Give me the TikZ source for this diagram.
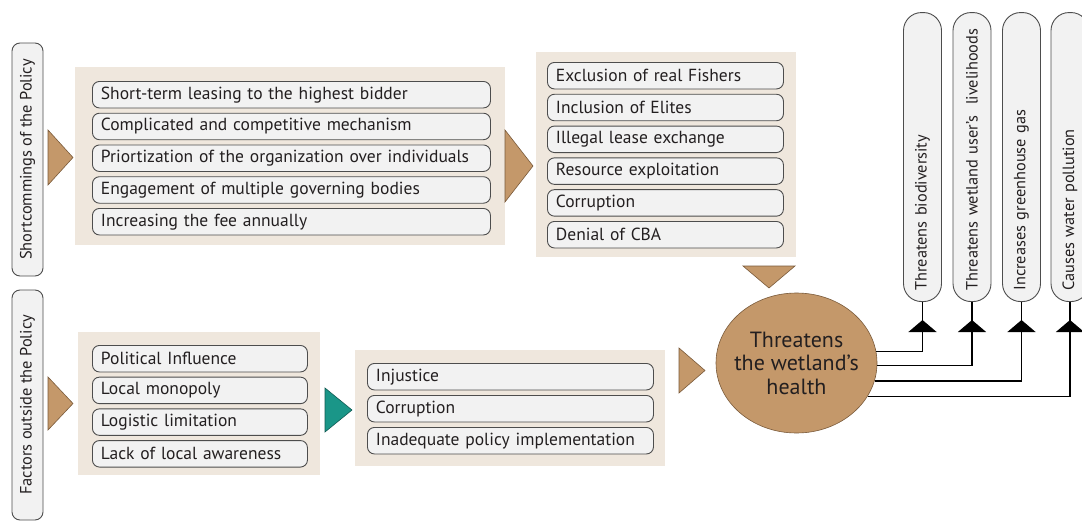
\documentclass[tikz,border=0pt]{standalone}
\usepackage{fontspec}
\setmainfont{PT Sans}
\usetikzlibrary{arrows.meta,decorations.markings,shapes.geometric}
\definecolor{tanc}{HTML}{C4986A}
\definecolor{tanline}{HTML}{7A5A3A}
\definecolor{panelc}{HTML}{EFE7DD}
\definecolor{boxfill}{HTML}{F2F2F2}
\definecolor{boxline}{HTML}{4D4D4D}
\definecolor{tealc}{HTML}{1A9688}
\definecolor{textc}{HTML}{231F20}
\begin{document}
\begin{tikzpicture}[x=1pt,y=-1pt,
  panel/.style={fill=panelc},
  lbox/.style={draw=boxline, fill=boxfill, rounded corners=7pt, line width=0.9pt,
    inner xsep=8.5pt, inner ysep=0pt, minimum height=26.5pt, anchor=north west,
    align=left, text=textc, font=\fontsize{17.5}{20}\selectfont},
  vlab/.style={draw=boxline, fill=boxfill, rounded corners=8pt, line width=0.9pt,
    rotate=90, inner sep=0pt, minimum height=31pt, text=textc,
    font=\fontsize{16.4}{19}\selectfont},
  rbox/.style={draw=boxline, fill=boxfill, rounded corners=18pt, line width=0.9pt,
    rotate=90, inner xsep=11pt, inner ysep=0pt, minimum height=38pt,
    text width=267pt, align=left, anchor=west, text=textc,
    font=\fontsize{16.3}{19}\selectfont},
  tri/.style={fill=tanc, draw=tanline, line width=0.6pt},
  conn/.style={line width=1.3pt, draw=black,
    decoration={markings, mark=at position -18pt with {\arrow{Triangle[width=28pt,length=12pt]}}},
    postaction={decorate}}
]
\useasboundingbox (0,0) rectangle (1082,522);
\fill[white] (0,0) rectangle (1082,522);

% left labels
\node[vlab, minimum width=233pt] (lab1) at (27.5,159.5) {Shortcommings of the Policy};
\node[vlab, minimum width=230pt] (lab2) at (27.5,405) {Factors outside the Policy};

% panels
\fill[panel] (75,67) rectangle (505,245);
\fill[panel] (536,52) rectangle (796,257);
\fill[panel] (78,332) rectangle (320,475);
\fill[panel] (355,350) rectangle (665,466);

% triangles
\draw[tri] (48,130) -- (48,185) -- (73,157.5) -- cycle;
\draw[tri] (48,377) -- (48,430) -- (73,403.5) -- cycle;
\draw[tri] (505,130) -- (505,202) -- (533,166) -- cycle;
\draw[tri] (743,266) -- (795,266) -- (769,288) -- cycle;
\draw[fill=tealc, draw=tealc!60!black, line width=0.6pt] (325,388) -- (325,432) -- (352,410) -- cycle;
\draw[tri] (679,348) -- (679,393) -- (705,370.5) -- cycle;

% panel 1
\node[lbox, text width=381pt] (a1) at (92,81) {Short-term leasing to the highest bidder};
\node[lbox, text width=381pt] (a2) at (92,112.75) {Complicated and competitive mechanism};
\node[lbox, text width=381pt] (a3) at (92,144.5) {Priortization of the organization over individuals};
\node[lbox, text width=381pt] (a4) at (92,176.25) {Engagement of multiple governing bodies};
\node[lbox, text width=381pt] (a5) at (92,208) {Increasing the fee annually};

% panel 2
\node[lbox, text width=219pt] (b1) at (547,62) {Exclusion of real Fishers};
\node[lbox, text width=219pt] (b2) at (547,93.8) {Inclusion of Elites};
\node[lbox, text width=219pt] (b3) at (547,125.6) {Illegal lease exchange};
\node[lbox, text width=219pt] (b4) at (547,157.4) {Resource exploitation};
\node[lbox, text width=219pt] (b5) at (547,189.2) {Corruption};
\node[lbox, text width=219pt] (b6) at (547,221) {Denial of CBA};

% panel 3
\node[lbox, text width=198pt] (c1) at (92,345) {Political Influence};
\node[lbox, text width=198pt] (c2) at (92,376.7) {Local monopoly};
\node[lbox, text width=198pt] (c3) at (92,408.4) {Logistic limitation};
\node[lbox, text width=198pt] (c4) at (92,440.1) {Lack of local awareness};

% panel 4
\node[lbox, text width=269pt] (d1) at (367,363) {Injustice};
\node[lbox, text width=269pt] (d2) at (367,395) {Corruption};
\node[lbox, text width=269pt] (d3) at (367,427) {Inadequate policy implementation};

% central ellipse
\node[ellipse, fill=tanc, draw=tanline, line width=0.6pt, minimum width=161pt,
      minimum height=140pt, inner sep=0pt] (circ) at (796.5,363) {};
\node[align=center, text=textc, font=\fontsize{22}{23.5}\selectfont] (circtext)
      at (circ.center) {Threatens\\the wetland’s\\health};

% right boxes
\node[rbox] (r1) at (922.5,302) {Threatens biodiversity};
\node[rbox] (r2) at (972,302) {Threatens wetland user’s\ \ livelihoods};
\node[rbox] (r3) at (1021.5,302) {Increases greenhouse gas};
\node[rbox] (r4) at (1070,302) {Causes water pollution};

% connectors
\draw[conn] (circ.8.7) -| (r1.west);
\draw[conn] (circ.-2.1) -| (r2.west);
\draw[conn] (circ.-13.9) -| (r3.west);
\draw[conn] (circ.-25.1) -| (r4.west);
\end{tikzpicture}
\end{document}
